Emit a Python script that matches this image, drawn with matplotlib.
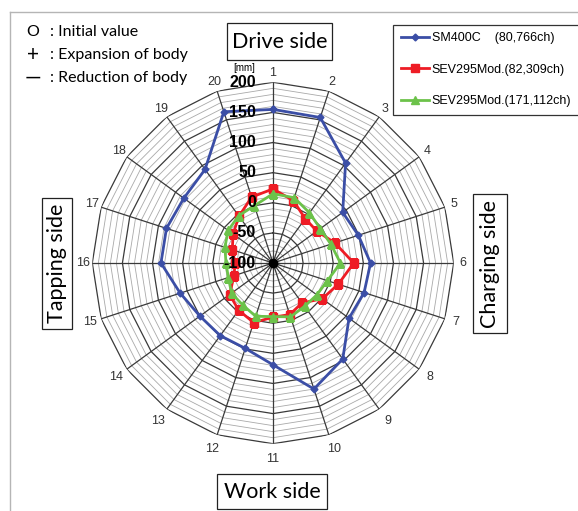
import matplotlib
matplotlib.use("Agg")
import matplotlib.pyplot as plt
import numpy as np
from matplotlib.transforms import offset_copy
from matplotlib.patches import Rectangle
from matplotlib.lines import Line2D

# ---- data -------------------------------------------------------------
spokes = [str(i) for i in range(1, 21)]
sm400c = [155, 154, 105, 43, 49, 62, 59, 56, 97, 120,
          69, 49, 49, 50, 62, 86, 86, 83, 92, 164]
sev_82k = [23, 9, -9, -10, 8, 34, 14, 1, -18, -10,
           -10, 4, -3, -11, -32, -37, -29, -18, -4, 15]
sev_171k = [15, 14, 3, -3, 1, 12, -5, -10, -11, -6,
            -11, -7, -14, -15, -22, -22, -16, -8, -3, 0]
series_labels = ["SM400C    (80,766ch)", "SEV295Mod.(82,309ch)",
                 "SEV295Mod.(171,112ch)"]
series_colors = ["#3b4ea6", "#ee1c25", "#6cc24a"]
series_markers = ["D", "s", "^"]
series_msize = [3.5, 6, 6]
r_ticks = [200, 150, 100, 50, 0, -50, -100]
r_min, r_max = -100, 200

# ---- figure -----------------------------------------------------------
W, H = 578, 511
fig = plt.figure(figsize=(W / 100, H / 100), dpi=100)
fig.patch.set_facecolor("white")


def fx(x):
    return x / W


def fy(y):
    return 1 - y / H


cx, cy, rad = 273, 263, 180.7
ax = fig.add_axes([fx(cx - rad), fy(cy + rad), 2 * rad / W, 2 * rad / H],
                  projection="polar")
ax.set_theta_zero_location("N")
ax.set_theta_direction(-1)
ax.set_ylim(r_min, r_max)
ax.set_xticks([])
ax.set_yticks([])
ax.grid(False)
ax.spines["polar"].set_visible(False)
ax.patch.set_alpha(0)

n = len(spokes)
theta = np.linspace(0, 2 * np.pi, n, endpoint=False)
closed = np.append(theta, theta[0])

# polygonal grid rings every 10 mm, darker every 50 mm
for r in range(r_min + 10, r_max + 1, 10):
    major = r % 50 == 0
    ax.plot(closed, [r] * (n + 1),
            color="#3a3a3a" if major else "#a9a9a9",
            lw=0.9 if major else 0.6, zorder=1)
for t in theta:
    ax.plot([t, t], [r_min, r_max], color="#3a3a3a", lw=0.9, zorder=1)
ax.plot([0], [r_min], "o", color="black", ms=6, zorder=2)

# data series
handles = []
for vals, lab, col, mk, ms in zip([sm400c, sev_82k, sev_171k], series_labels,
                                  series_colors, series_markers, series_msize):
    h, = ax.plot(closed, vals + vals[:1], color=col, lw=2.0, marker=mk,
                 ms=ms, mec=col, mfc=col, label=lab, zorder=4)
    handles.append(h)

# radial scale labels along spoke 1
trans = offset_copy(ax.transData, fig=fig, x=-17, y=0, units="dots")
for v in r_ticks:
    ax.text(0, v, str(v), transform=trans, ha="right", va="center",
            fontsize=11.5, fontweight="bold", family="Liberation Sans",
            color="black", zorder=5)
fig.text(fx(244), fy(68), "[mm]", ha="center", va="center", fontsize=7,
         family="Liberation Sans")

# spoke numbers
for t, lab in zip(theta, spokes):
    rr = 216 + 10 * max(0.0, -np.cos(t))
    ax.text(t, rr, lab, ha="center", va="center", fontsize=9,
            family="Liberation Sans", color="#333333", clip_on=False)

# legend
fig.legend(handles=handles, loc="upper left",
           bbox_to_anchor=(fx(393), fy(25)), borderaxespad=0,
           frameon=True, fancybox=False, edgecolor="black",
           prop={"family": "Liberation Sans", "size": 9.0},
           labelspacing=1.55, handlelength=2.3, handletextpad=0.2,
           borderpad=0.6).get_frame().set_linewidth(0.9)

# side labels in boxes
side_boxes = [
    ("Drive side", 227, 23, 332, 60, 0),
    ("Work side", 217, 474, 327, 509, 0),
    ("Tapping side", 42, 198, 72, 329, 90),
    ("Charging side", 473, 194, 507, 333, 90),
]
for text, x0, y0, x1, y1, rot in side_boxes:
    fig.add_artist(Rectangle((fx(x0), fy(y1)), (x1 - x0) / W, (y1 - y0) / H,
                             transform=fig.transFigure, fill=False,
                             edgecolor="#222222", lw=0.9))
    fig.text(fx((x0 + x1) / 2), fy((y0 + y1) / 2), text, rotation=rot,
             ha="center", va="center", fontsize=15.5, family="Lato")

# key for the sign convention
notes = [("O", "Initial value", 32), ("+", "Expansion of body", 55),
         ("\u2014", "Reduction of body", 78)]
for sym, desc, y in notes:
    fig.text(fx(33), fy(y), sym, ha="center", va="center",
             fontsize=11.5 if sym == "O" else 15, family="Lato")
    fig.text(fx(50), fy(y), ": " + desc, ha="left", va="center",
             fontsize=11.5, family="Lato")

# outer frame lines
fig.add_artist(Line2D([fx(10), fx(10)], [fy(12), 0], color="#b5b5b5",
                      lw=1.0, transform=fig.transFigure))
fig.add_artist(Line2D([fx(10), 1], [fy(12), fy(12)], color="#b5b5b5",
                      lw=1.0, transform=fig.transFigure))

fig.savefig("out.png", dpi=100)
